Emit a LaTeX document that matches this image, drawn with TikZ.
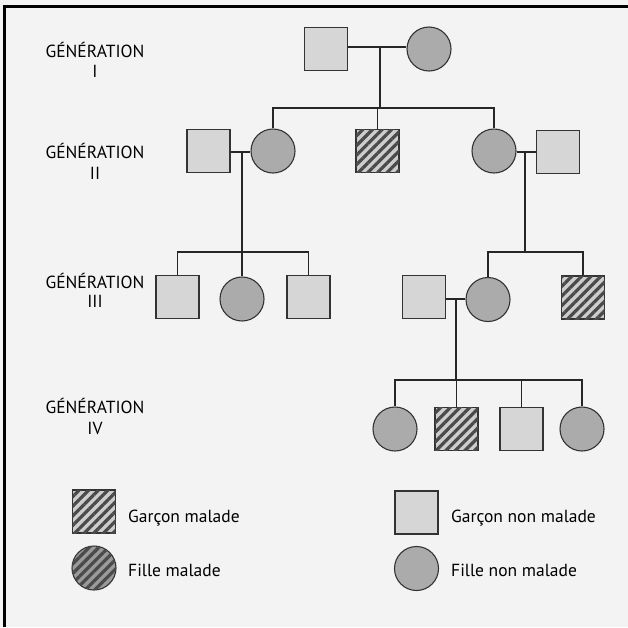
\documentclass[tikz,border=0pt]{standalone}
\usepackage{fontspec}
\setmainfont{PT Sans}
\usetikzlibrary{patterns.meta}
\definecolor{bgc}{HTML}{F3F3F3}
\definecolor{sqfill}{HTML}{D6D6D6}
\definecolor{cifill}{HTML}{ABABAB}
\definecolor{hatchbg}{HTML}{CDCDCD}
\definecolor{hatchfg}{HTML}{4A4A4A}
\definecolor{edge}{HTML}{333333}
\tikzset{
  male/.style={draw=edge, line width=1.1pt, fill=sqfill, minimum width=43pt, minimum height=43pt, inner sep=0pt},
  female/.style={draw=edge, line width=1.1pt, circle, fill=cifill, minimum size=44pt, inner sep=0pt},
  ill/.style={postaction={pattern={Lines[angle=45,distance=6.8pt,line width=3.2pt]}, pattern color=hatchfg}},
  illm/.style={male, fill=hatchbg, ill},
  illf/.style={female, fill=cifill!90!black, ill},
  gen/.style={font=\fontsize{17.5}{21}\selectfont, anchor=base, text=black, inner sep=0pt},
  leg/.style={font=\fontsize{17.5}{21}\selectfont, anchor=base west, text=black, inner sep=0pt},
  link/.style={line width=1.1pt, draw=black!85}
}
\begin{document}
\begin{tikzpicture}[x=1pt,y=-1pt]
\useasboundingbox (0,0) rectangle (628,627);
\fill[bgc] (0,0) rectangle (628,627);
\draw[line width=3.2pt, black] (4.5,627) -- (4.5,6.5) -- (628,6.5);

% generation labels
\node[gen] (g1a) at (95,57) {GÉNÉRATION};
\node[gen] (g1b) at (95,77) {I};
\node[gen] (g2a) at (95,158) {GÉNÉRATION};
\node[gen] (g2b) at (95,179) {II};
\node[gen] (g3a) at (95,288) {GÉNÉRATION};
\node[gen] (g3b) at (95,307) {III};
\node[gen] (g4a) at (95,413) {GÉNÉRATION};
\node[gen] (g4b) at (95,434) {IV};

% generation I
\node[male] (I1) at (326,49) {};
\node[female] (I2) at (429,49) {};
% generation II
\node[male] (II1) at (208.5,151) {};
\node[female] (II2) at (273,151) {};
\node[illm] (II3) at (377.5,151) {};
\node[female] (II4) at (494,151) {};
\node[male] (II5) at (558,152) {};
% generation III
\node[male] (III1) at (177.5,297) {};
\node[female] (III2) at (242,299) {};
\node[male] (III3) at (308.5,297) {};
\node[male] (III4) at (424,297) {};
\node[female] (III5) at (488,299.5) {};
\node[illm] (III6) at (583,297.5) {};
% generation IV
\node[female] (IV1) at (395,429) {};
\node[illm] (IV2) at (456.5,429) {};
\node[male] (IV3) at (521.5,429) {};
\node[female] (IV4) at (582,429) {};

% connectors
\coordinate (c1) at (380,47);
\coordinate (b1) at (380,108);
\draw[link] (I1.east |- c1) -- (I2.west |- c1);
\draw[link] (c1) -- (b1);
\draw[link] (II2.north) -- (II2.north |- b1) -- (II4.north |- b1) -- (II4.north);
\draw[link] (II3.north) -- (II3.north |- b1);

\coordinate (c2) at (242,152);
\coordinate (b2) at (242,252);
\draw[link] (II1.east |- c2) -- (II2.west |- c2);
\draw[link] (c2) -- (b2);
\draw[link] (III1.north) -- (III1.north |- b2) -- (III3.north |- b2) -- (III3.north);
\draw[link] (III2.north) -- (III2.north |- b2);

\coordinate (c3) at (525,152);
\coordinate (b3) at (525,252);
\draw[link] (II4.east |- c3) -- (II5.west |- c3);
\draw[link] (c3) -- (b3);
\draw[link] (III5.north) -- (III5.north |- b3) -- (III6.north |- b3) -- (III6.north);

\coordinate (c4) at (456,299);
\coordinate (b4) at (456,380);
\draw[link] (III4.east |- c4) -- (III5.west |- c4);
\draw[link] (c4) -- (b4);
\draw[link] (IV1.north) -- (IV1.north |- b4) -- (IV4.north |- b4) -- (IV4.north);
\draw[link] (IV2.north) -- (IV2.north |- b4);
\draw[link] (IV3.north) -- (IV3.north |- b4);

% legend
\node[illm] (L1) at (94,511.5) {};
\node[leg] (L1t) at (128,522) {Garçon malade};
\node[illf] (L2) at (94,568) {};
\node[leg] (L2t) at (128,576) {Fille malade};
\node[male] (L3) at (416.5,512.5) {};
\node[leg] (L3t) at (451,522) {Garçon non malade};
\node[female] (L4) at (416.5,568.5) {};
\node[leg] (L4t) at (451,576) {Fille non malade};
\end{tikzpicture}
\end{document}
